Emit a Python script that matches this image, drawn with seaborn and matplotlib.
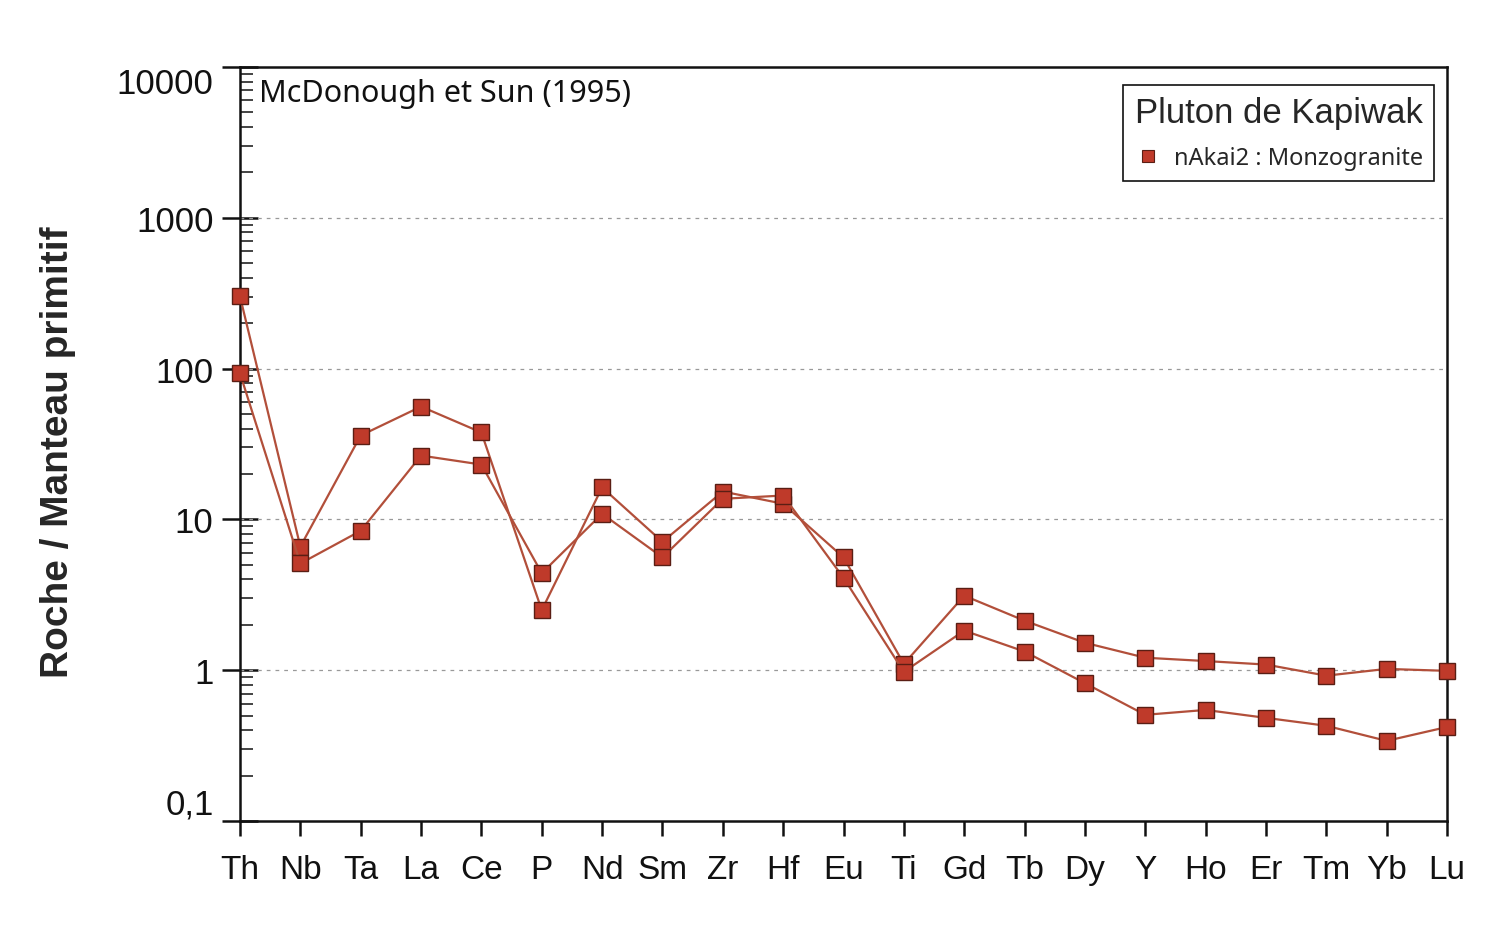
import numpy as np
import pandas as pd
import seaborn as sns
import matplotlib.pyplot as plt
from matplotlib.lines import Line2D
from matplotlib.ticker import LogLocator, NullFormatter, FixedLocator

# spider diagram normalised to primitive mantle
elements = ['Th', 'Nb', 'Ta', 'La', 'Ce', 'P', 'Nd', 'Sm', 'Zr', 'Hf', 'Eu',
            'Ti', 'Gd', 'Tb', 'Dy', 'Y', 'Ho', 'Er', 'Tm', 'Yb', 'Lu']
sample_a = [301, 6.6, 36, 56, 37.7, 2.5, 16.3, 7.1, 15.3, 12.7, 5.6,
            1.10, 3.12, 2.13, 1.52, 1.21, 1.15, 1.09, 0.92, 1.02, 0.99]
sample_b = [93, 5.1, 8.4, 26.5, 23.1, 4.4, 10.9, 5.6, 13.7, 14.4, 4.1,
            0.975, 1.83, 1.33, 0.82, 0.506, 0.545, 0.483, 0.428, 0.34, 0.42]
ytick_vals = [0.1, 1, 10, 100, 1000, 10000]
ytick_text = ['0,1', '1', '10', '100', '1000', '10000']

pos = np.arange(len(elements))
df = pd.DataFrame({
    'pos': np.concatenate([pos, pos]),
    'val': sample_a + sample_b,
    'ech': ['a'] * len(pos) + ['b'] * len(pos),
})

sns.set_style('white')
plt.rcParams['font.family'] = ['Liberation Sans', 'DejaVu Sans']

fill = '#bf3a2a'
edge = '#5a1e14'
linec = '#b24f3a'

fig = plt.figure(figsize=(14.99, 9.28), dpi=100)
ax = fig.add_axes([240 / 1499, 1 - 822 / 928, 1207 / 1499, 754 / 928])

sns.lineplot(data=df, x='pos', y='val', units='ech', estimator=None, sort=False,
             color=linec, lw=1.6, marker='s', markersize=12,
             markerfacecolor=fill, markeredgecolor=edge, markeredgewidth=1.0,
             legend=False, ax=ax, zorder=3, clip_on=False)

ax.set_yscale('log')
ax.set_ylim(0.1, 10000)
ax.set_xlim(0, len(elements) - 1)

ax.yaxis.set_major_locator(FixedLocator(ytick_vals))
ax.set_yticklabels(ytick_text)
ax.yaxis.set_minor_locator(LogLocator(base=10, subs=np.arange(2, 10)))
ax.yaxis.set_minor_formatter(NullFormatter())
ax.set_xticks(pos)
ax.set_xticklabels(elements)

ax.tick_params(axis='y', which='both', left=True, right=False)
ax.tick_params(axis='x', which='both', bottom=True, top=False)
ax.tick_params(axis='y', which='major', direction='inout', length=26, width=1.8,
               labelsize=25, pad=6, colors='#111111')
ax.tick_params(axis='y', which='minor', direction='in', length=9, width=1.1,
               colors='#111111')
ax.tick_params(axis='x', which='major', direction='out', length=11, width=1.8,
               labelsize=24, pad=13, colors='#111111')

labs = ax.get_yticklabels()
labs[-1].set_va('top')
labs[0].set_va('bottom')

for v in [1, 10, 100, 1000]:
    ax.axhline(v, color='#999999', lw=0.9, ls=(0, (3, 4)), zorder=1)

for s in ax.spines.values():
    s.set_visible(True)
    s.set_color('#111111')
    s.set_linewidth(1.8)

ax.set_xlabel('')
ax.set_ylabel('Roche / Manteau primitif', fontsize=28, fontweight='bold')
ax.yaxis.set_label_coords(-0.136, 0.49)

ax.text(0.016, 0.986, 'McDonough et Sun (1995)', transform=ax.transAxes,
        ha='left', va='top', fontsize=22, family=['Noto Sans', 'DejaVu Sans'],
        color='#111111')

handle = Line2D([], [], ls='none', marker='s', markersize=8,
                markerfacecolor=fill, markeredgecolor=edge, markeredgewidth=0.8)
leg = ax.legend([handle], ['nAkai2 : Monzogranite'], title='Pluton de Kapiwak',
                loc='upper right', bbox_to_anchor=(0.989, 0.976), borderaxespad=0,
                frameon=True, fancybox=False, edgecolor='#111111', framealpha=1,
                prop={'family': ['Noto Sans', 'DejaVu Sans'], 'size': 17},
                title_fontsize=25, handletextpad=0.5, borderpad=0.45,
                labelspacing=0.75, handlelength=1.2)
leg.get_frame().set_linewidth(1.2)
leg.get_title().set_family(['Liberation Sans', 'DejaVu Sans'])

fig.savefig('out.png', dpi=100)
